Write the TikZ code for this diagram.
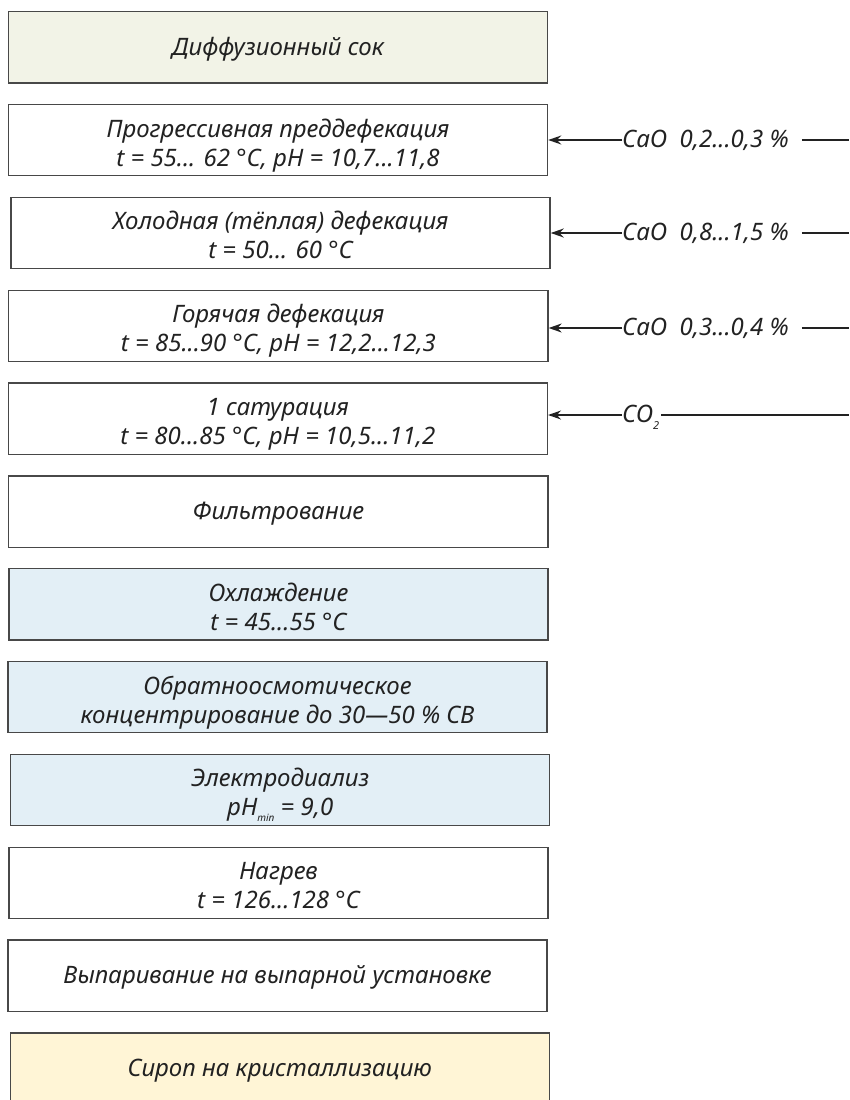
\documentclass[tikz,border=0pt]{standalone}
\usepackage{fontspec}
\setmainfont{Noto Sans}
\usetikzlibrary{arrows.meta}
\definecolor{bordergray}{HTML}{484848}
\definecolor{txt}{HTML}{222222}
\definecolor{greenfill}{HTML}{F2F3E7}
\definecolor{bluefill}{HTML}{E3EFF6}
\definecolor{yellowfill}{HTML}{FFF5D6}
\newcommand{\subtxt}[3]{\raisebox{#1}{\fontsize{#2}{#2}\selectfont #3}}
% struts fixing the vertical placement of the text in the boxes
\newcommand{\oneTop}{\rule{0pt}{22pt}}
\newcommand{\oneBot}{\rule[-6.8pt]{0pt}{6.8pt}}
\newcommand{\twoTop}{\rule{0pt}{30pt}}
\newcommand{\twoBot}{\rule[-7.4pt]{0pt}{7.4pt}}
\begin{document}
\begin{tikzpicture}[x=1pt,y=-1pt,
  box/.style={draw=bordergray, line width=1.3pt, rectangle, minimum width=539.2pt,
    minimum height=71.2pt, inner sep=0pt, align=center,
    font=\fontsize{24}{29}\selectfont\itshape, text=txt},
  lab/.style={inner sep=0pt, font=\fontsize{24}{29}\selectfont\itshape, text=txt, anchor=base west},
  arr/.style={draw=txt, line width=1.6pt, -{Stealth[length=13pt,width=9pt]}},
  ln/.style={draw=txt, line width=1.6pt}]
\useasboundingbox (0,0) rectangle (849,1100);
\fill[white] (0,0) rectangle (849,1100);

\node[box, fill=greenfill] (b1) at (278,47.4) {\oneTop Диффузионный сок\oneBot};
\node[box] (b2) at (278,140.2) {\twoTop Прогрессивная преддефекация\\t = 55... 62 °C, pH = 10,7...11,8\twoBot};
\node[box] (b3) at (280.5,233.1) {\twoTop Холодная (тёплая) дефекация\\t = 50... 60 °C\twoBot};
\node[box] (b4) at (278.4,325.9) {\twoTop Горячая дефекация\\t = 85...90 °C, pH = 12,2...12,3\twoBot};
\node[box] (b5) at (277.8,418.7) {\twoTop 1 сатурация\\t = 80...85 °C, pH = 10,5...11,2\twoBot};
\node[box] (b6) at (278.4,511.6) {\oneTop Фильтрование\oneBot};
\node[box, fill=bluefill] (b7) at (278.5,604.4) {\twoTop Охлаждение\\t = 45...55 °C\twoBot};
\node[box, fill=bluefill] (b8) at (277.5,697.2) {\twoTop Обратноосмотическое\\концентрирование до 30—50 \% СВ\twoBot};
\node[box, fill=bluefill] (b9) at (280.2,790.0) {\twoTop Электродиализ\\pH\subtxt{-6pt}{10}{min} = 9,0\twoBot};
\node[box] (b10) at (278.5,882.9) {\twoTop Нагрев\\t = 126...128 °C\twoBot};
\node[box] (b11) at (277.5,975.7) {\oneTop Выпаривание на выпарной установке\oneBot};
\node[box, fill=yellowfill] (b12) at (279.8,1068.5) {\oneTop Сироп на кристаллизацию\oneBot};

\coordinate (r2) at (849,140);
\coordinate (r3) at (849,233);
\coordinate (r4) at (849,328);
\coordinate (r5) at (849,415);

\node[lab] (l2) at (622,147.5) {CaO\ \ 0,2...0,3 \%};
\node[lab] (l3) at (622,240.5) {CaO\ \ 0,8...1,5 \%};
\node[lab] (l4) at (622,335.5) {CaO\ \ 0,3...0,4 \%};
\node[lab] (l5) at (622,422.5) {CO\subtxt{-7pt}{11}{2}};

\draw[arr] (l2.west |- r2) -- (b2.east |- r2);
\draw[arr] (l3.west |- r3) -- (b3.east |- r3);
\draw[arr] (l4.west |- r4) -- (b4.east |- r4);
\draw[arr] (l5.west |- r5) -- (b5.east |- r5);
\draw[ln] ([xshift=13pt]l2.east |- r2) -- (r2);
\draw[ln] ([xshift=13pt]l3.east |- r3) -- (r3);
\draw[ln] ([xshift=13pt]l4.east |- r4) -- (r4);
\draw[ln] ([xshift=2pt]l5.east |- r5) -- (r5);
\end{tikzpicture}
\end{document}
